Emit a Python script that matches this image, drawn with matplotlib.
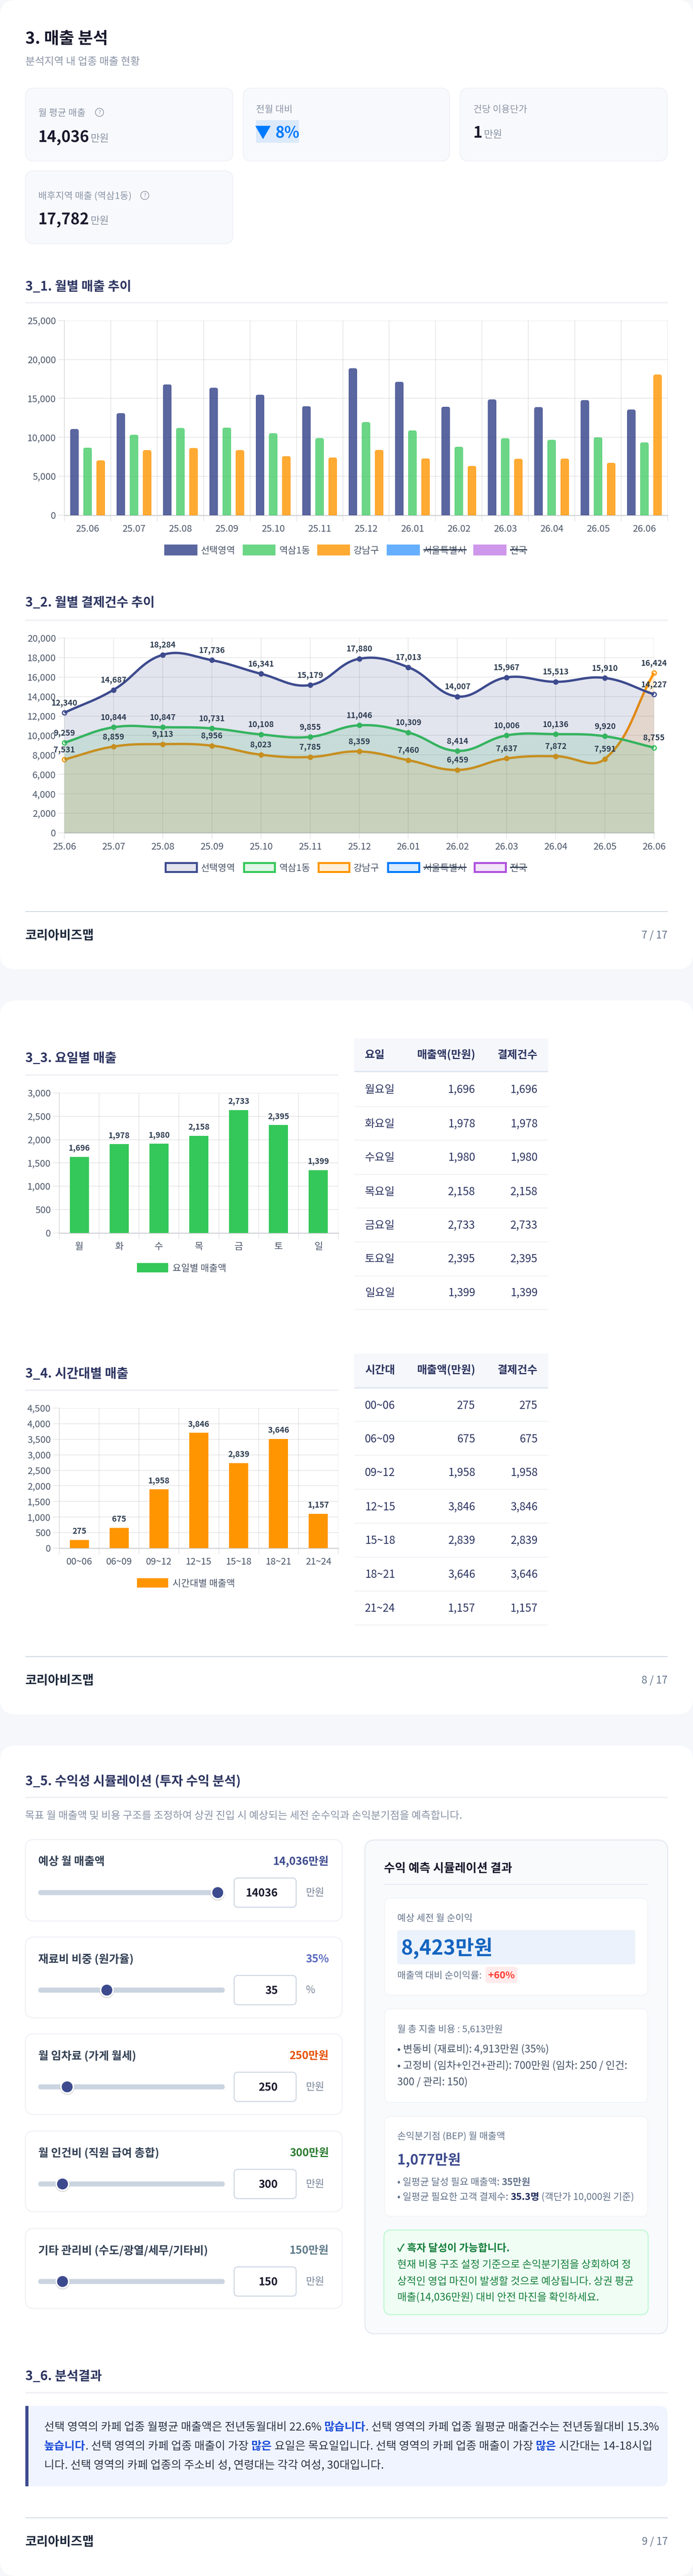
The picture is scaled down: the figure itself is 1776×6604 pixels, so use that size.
import numpy as np
import matplotlib
matplotlib.use('Agg')
import matplotlib.pyplot as plt
from matplotlib.patches import FancyBboxPatch, Rectangle, Circle

plt.rcParams['font.family'] = ['Noto Sans CJK KR', 'DejaVu Sans']

# Monthly data
months = ['25.06', '25.07', '25.08', '25.09', '25.10', '25.11', '25.12',
          '26.01', '26.02', '26.03', '26.04', '26.05', '26.06']
sales_area = [11056, 13093, 16786, 16360, 15465, 13988, 18867, 17122, 13921, 14861, 13876, 14772, 13563]
sales_dong = [8660, 10318, 11190, 11235, 10519, 9893, 11952, 10877, 8773, 9870, 9669, 9982, 9333]
sales_gu = [7027, 8348, 8617, 8348, 7565, 7386, 8370, 7274, 6311, 7229, 7251, 6714, 18062]
count_area = [12340, 14687, 18284, 17736, 16341, 15179, 17880, 17013, 14007, 15967, 15513, 15910, 14227]
count_dong = [9259, 10844, 10847, 10731, 10108, 9855, 11046, 10309, 8414, 10006, 10136, 9920, 8755]
count_gu = [7531, 8859, 9113, 8956, 8023, 7785, 8359, 7460, 6459, 7637, 7872, 7591, 16424]
legend_names = ['선택영역', '역삼1동', '강남구', '서울특별시', '전국']

# Weekday and time data. Bars sit a little under their printed labels in the source
day_short = ['월', '화', '수', '목', '금', '토', '일']
day_names = ['월요일', '화요일', '수요일', '목요일', '금요일', '토요일', '일요일']
day_bars = [1630, 1904, 1909, 2082, 2635, 2313, 1346]
day_sales = [1696, 1978, 1980, 2158, 2733, 2395, 1399]
time_names = ['00~06', '06~09', '09~12', '12~15', '15~18', '18~21', '21~24']
time_bars = [265, 650, 1890, 3707, 2735, 3515, 1109]
time_sales = [275, 675, 1958, 3846, 2839, 3646, 1157]

# Simulation sliders
slider_titles = ['예상 월 매출액', '재료비 비중 (원가율)', '월 임차료 (가게 월세)', '월 인건비 (직원 급여 총합)', '기타 관리비 (수도/광열/세무/기타비)']
slider_shown = ['14,036만원', '35%', '250만원', '300만원', '150만원']
slider_inputs = ['14036', '35', '250', '300', '150']
slider_units = ['만원', '%', '만원', '만원', '만원']
slider_fracs = [1.0, 0.357, 0.127, 0.10, 0.10]

# Colours
NAVY = '#3d4b8e'
GREEN = '#34c759'
ORANGE = '#ff9500'
BLUE = '#007aff'
PURPLE = '#af52de'
INK = '#1a1a2e'
HEAD = '#2d3561'
GREY = '#8a94a6'
TICK = '#4a5568'
LABEL = '#2f3e52'
legend_colors = [NAVY, GREEN, ORANGE, BLUE, PURPLE]
slider_colors = [NAVY, '#5c6bc0', '#e65100', '#2e7d32', '#607d8b']

W, H = 1776, 6604
PX = 0.72  # css px to points at dpi 100

fig = plt.figure(figsize=(W / 100, H / 100), dpi=100, facecolor='#f5f7fa')
bg = fig.add_axes([0, 0, 1, 1])
bg.set_xlim(0, W)
bg.set_ylim(H, 0)
bg.axis('off')


def box(x0, y0, x1, y1, fc='white', ec='none', lw=0, r=0, z=1):
    if r > 0:
        p = FancyBboxPatch((x0, y0), x1 - x0, y1 - y0, boxstyle='round,pad=0,rounding_size=%g' % r,
                           fc=fc, ec=ec, lw=lw * PX, zorder=z)
    else:
        p = Rectangle((x0, y0), x1 - x0, y1 - y0, fc=fc, ec=ec, lw=lw * PX, zorder=z)
    bg.add_patch(p)


def txt(x, y, s, size, color=INK, weight='normal', ha='left', z=5):
    # y is the visual middle of the line, so go through the baseline
    return bg.text(x, y + 0.36 * size, s, fontsize=size * PX, color=color, fontweight=weight,
                   ha=ha, va='baseline', zorder=z)


def text_width(s, size, weight):
    r = fig.canvas.get_renderer()
    a = bg.text(0, 0, s + '|', fontsize=size * PX, fontweight=weight)
    b = bg.text(0, 0, '|', fontsize=size * PX, fontweight=weight)
    w = a.get_window_extent(r).width - b.get_window_extent(r).width
    a.remove()
    b.remove()
    return w


def rich(x, y, parts, size, z=5):
    for s, color, weight in parts:
        txt(x, y, s, size, color, weight, z=z)
        x += text_width(s, size, weight)


def heading(y, rule_y, s, right=1711):
    txt(65, y, s, 32.8, HEAD, 'bold')
    box(65, rule_y - 2, right, rule_y + 2, fc='#f0f1f5')


def footer(line_y, page):
    box(65, line_y - 1, 1711, line_y + 1, fc='#cbd5e1')
    txt(65, line_y + 59, '코리아비즈맵', 32, '#1e293b', 'bold')
    txt(1711, line_y + 59, page, 26.6, '#64748b', ha='right')


def chart_axes(left, top, right, bottom):
    ax = fig.add_axes([left / W, 1 - bottom / H, (right - left) / W, (bottom - top) / H])
    ax.set_facecolor('none')
    ax.grid(True, color='k', alpha=0.09, lw=2 * PX)
    ax.set_axisbelow(True)
    for s in ['top', 'right']:
        ax.spines[s].set_visible(False)
    ax.spines['left'].set_color('#dcdcdc')
    ax.spines['left'].set_linewidth(2 * PX)
    ax.spines['bottom'].set_color('#d4d6da')
    ax.spines['bottom'].set_linewidth(3 * PX)
    ax.tick_params(axis='both', which='major', color='#e8e8e8', width=2 * PX, length=16 * PX,
                   labelsize=24 * PX, labelcolor=TICK, pad=6 * PX)
    return ax


def thousand(values):
    return ['{:,}'.format(v) for v in values]


def offset_categories(ax, labels):
    # grid lines between the categories, names in the middle of them
    n = len(labels)
    ax.set_xlim(-0.5, n - 0.5)
    ax.set_xticks(np.arange(-0.5, n, 1))
    ax.set_xticklabels([])
    ax.set_xticks(np.arange(n), minor=True)
    ax.set_xticklabels(labels, minor=True)
    ax.tick_params(axis='x', which='minor', length=0, labelsize=24 * PX, labelcolor=TICK, pad=24 * PX)


def round_top_bars(ax, xs, values, width, color, alpha):
    bars = ax.bar(xs, values, width, color=color, alpha=alpha, ec=color, lw=2 * PX, zorder=3)
    bb = ax.get_position()
    y0, y1 = ax.get_ylim()
    x0, x1 = ax.get_xlim()
    asp = ((y1 - y0) / (bb.height * H)) / ((x1 - x0) / (bb.width * W))
    for b in bars:
        clip = FancyBboxPatch((b.get_x(), -3000), b.get_width(), b.get_height() + 3000,
                              boxstyle='round,pad=0,rounding_size=%g' % (5 * (x1 - x0) / (bb.width * W)),
                              mutation_aspect=asp, transform=ax.transData)
        b.set_clip_path(clip)


def legend_row(y, solid):
    swatches = [(421, 506), (622, 706), (813, 897), (991, 1076), (1213, 1298)]
    alphas = [0.85, 0.72, 0.8, 0.6, 0.6]
    for i, name in enumerate(legend_names):
        a, b = swatches[i]
        if solid:
            box(a, y - 14, b, y + 14, fc=matplotlib.colors.to_rgba(legend_colors[i], alphas[i]))
        else:
            box(a + 2.5, y - 11.5, b - 2.5, y + 11.5, fc=matplotlib.colors.to_rgba(legend_colors[i], 0.15),
                ec=legend_colors[i], lw=5)
        txt(b + 9, y, name, 24, TICK)
        if i > 2:
            w = text_width(name, 24, 'normal')
            box(b + 9, y - 1.5, b + 9 + w, y + 1.5, fc=LABEL, z=6)


def smooth_curve(values, sx, sy, tension=0.4):
    # same spline as the chart library, worked out in pixels
    px = np.arange(len(values)) * sx
    py = np.array(values, dtype=float) * sy
    n = len(values)
    out = np.zeros(n)
    inc = np.zeros(n)
    for i in range(n):
        p, q = max(i - 1, 0), min(i + 1, n - 1)
        d01 = np.hypot(px[i] - px[p], py[i] - py[p])
        d12 = np.hypot(px[q] - px[i], py[q] - py[i])
        s = d01 + d12
        out[i] = tension * d12 / s
        inc[i] = tension * d01 / s
    xs, ys = [], []
    t = np.linspace(0, 1, 40)[:, None]
    for i in range(n - 1):
        p, q = max(i - 1, 0), min(i + 2, n - 1)
        p0 = np.array([px[i], py[i]])
        p3 = np.array([px[i + 1], py[i + 1]])
        p1 = p0 + out[i] * (p3 - np.array([px[p], py[p]]))
        p2 = p3 - inc[i + 1] * (np.array([px[q], py[q]]) - p0)
        c = (1 - t) ** 3 * p0 + 3 * (1 - t) ** 2 * t * p1 + 3 * (1 - t) * t ** 2 * p2 + t ** 3 * p3
        xs.append(c[:, 0])
        ys.append(c[:, 1])
    return np.concatenate(xs) / sx, np.concatenate(ys) / sy


def bar_panel(left, top, right, bottom, ymax, step, labels, bars, printed, color, legend_name, legend_y):
    ax = chart_axes(left, top, right, bottom)
    ax.set_ylim(0, ymax)
    offset_categories(ax, labels)
    ax.set_yticks(np.arange(0, ymax + 1, step))
    ax.set_yticklabels(thousand(range(0, ymax + 1, step)))
    ax.bar(range(len(bars)), bars, 0.48, color=color, zorder=3)
    for i in range(len(bars)):
        ax.annotate('{:,}'.format(printed[i]), (i, bars[i]), xytext=(0, 16 * PX), textcoords='offset points',
                    ha='center', va='baseline', fontsize=20.5 * PX, color=LABEL, fontweight='bold', zorder=6)
    box(351, legend_y - 12, 431, legend_y + 12, fc=color)
    txt(442, legend_y, legend_name, 24, TICK)


def table(top, head_bottom, rule_ys, head_y, row_ys, first, names, values):
    box(908, top, 1405, head_bottom, fc='#f5f7fb')
    box(908, head_bottom - 4, 1405, head_bottom, fc='#e2e8f0')
    txt(935, head_y, first, 28, HEAD, 'bold')
    txt(1218, head_y, '매출액(만원)', 28, HEAD, 'bold', ha='right')
    txt(1378, head_y, '결제건수', 28, HEAD, 'bold', ha='right')
    for i, name in enumerate(names):
        txt(935, row_ys[i], name, 28, HEAD)
        txt(1218, row_ys[i], '{:,}'.format(values[i]), 28, HEAD, ha='right')
        txt(1378, row_ys[i], '{:,}'.format(values[i]), 28, HEAD, ha='right')
        box(908, rule_ys[i] - 1.2, 1405, rule_ys[i] + 1.2, fc='#eef0f4')


# White pages
box(0, 0, W, 2485, r=40)
box(0, 2565, W, 4395, r=40)
box(0, 4475, W, H, r=40)

# Page 7 header and KPI cards
txt(65, 97, '3. 매출 분석', 42, INK, 'bold')
txt(65, 156, '분석지역 내 업종 매출 현황', 26.6, GREY)
card_fc, card_ec = '#f8f9fc', '#eef0f5'
box(65, 226, 597, 413, fc=card_fc, ec=card_ec, lw=2, r=22)
box(623, 226, 1152, 413, fc=card_fc, ec=card_ec, lw=2, r=22)
box(1179, 226, 1710, 413, fc=card_fc, ec=card_ec, lw=2, r=22)
box(65, 438, 597, 625, fc=card_fc, ec=card_ec, lw=2, r=22)


def help_icon(x, y):
    bg.add_patch(Circle((x, y), 10.5, fc='none', ec='#8f98a8', lw=1.8 * PX, zorder=5))
    txt(x, y, '?', 15, '#8f98a8', ha='center')


txt(98, 288, '월 평균 매출', 24, GREY)
help_icon(255, 288)
txt(98, 350, '14,036', 40, INK, 'bold')
txt(232, 354, '만원', 26, GREY)
txt(656, 279, '전월 대비', 24, GREY)
box(656, 308, 765.5, 366, fc='#dbe9fb')
txt(653, 339, '▼', 42, BLUE)
txt(705, 339, '8%', 40, BLUE, 'bold')
txt(1213, 279, '건당 이용단가', 24, GREY)
txt(1213, 339, '1', 40, INK, 'bold')
txt(1240, 344, '만원', 26, GREY)
txt(98, 501, '배후지역 매출 (역삼1동)', 24, GREY)
help_icon(371, 501)
txt(98, 561, '17,782', 40, INK, 'bold')
txt(232, 565, '만원', 26, GREY)

# 3_1 grouped bars
heading(733, 776, '3_1. 월별 매출 추이')
ax1 = chart_axes(165, 822, 1711, 1320.6)
ax1.set_ylim(0, 25000)
offset_categories(ax1, months)
ax1.set_yticks(np.arange(0, 25001, 5000))
ax1.set_yticklabels(thousand(range(0, 25001, 5000)))
x1 = np.arange(len(months))
round_top_bars(ax1, x1 - 0.283, sales_area, 0.18, NAVY, 0.85)
round_top_bars(ax1, x1, sales_dong, 0.18, GREEN, 0.72)
round_top_bars(ax1, x1 + 0.283, sales_gu, 0.18, ORANGE, 0.8)
legend_row(1410, True)

# 3_2 smooth lines
heading(1543, 1590, '3_2. 월별 결제건수 추이')
ax2 = chart_axes(165, 1636, 1676, 2135)
ax2.set_xlim(0, 12)
ax2.set_ylim(0, 20000)
ax2.set_xticks(range(13))
ax2.set_xticklabels(months)
ax2.tick_params(axis='x', pad=9 * PX)
ax2.set_yticks(np.arange(0, 20001, 2000))
ax2.set_yticklabels(thousand(range(0, 20001, 2000)))
sx = (1676 - 165) / 12
sy = (2135 - 1636) / 20000
for vals, col in [(count_gu, ORANGE), (count_dong, GREEN), (count_area, NAVY)]:
    cx, cy = smooth_curve(vals, sx, sy)
    ax2.fill_between(cx, 0, cy, color=col, alpha=0.15, lw=0, zorder=3)
    # points sit under the line: solid in the run, open at both ends
    ax2.plot(range(1, 12), vals[1:12], ls='none', marker='o', ms=11 * PX, mfc=col, mec=col, mew=3 * PX,
             clip_on=False, zorder=3)
    ax2.plot([0, 12], [vals[0], vals[12]], ls='none', marker='o', ms=11 * PX, mfc='white', mec=col, mew=3 * PX,
             clip_on=False, zorder=3)
    ax2.plot(cx, cy, color=col, lw=6 * PX, solid_capstyle='butt', clip_on=False, zorder=3)
for vals in [count_area, count_dong, count_gu]:
    for i, v in enumerate(vals):
        ax2.annotate('{:,}'.format(v), (i, v), xytext=(0, 19 * PX), textcoords='offset points', ha='center',
                     va='baseline', fontsize=20.5 * PX, color=LABEL, fontweight='bold', zorder=8,
                     annotation_clip=False)
legend_row(2224, False)
footer(2337, '7 / 17')

# 3_3 weekday
heading(2711, 2756, '3_3. 요일별 매출', right=867)
bar_panel(152, 2802, 867, 3160.5, 3000, 500, day_short, day_bars, day_sales, GREEN, '요일별 매출액', 3250)
table(2662, 2749.5, [2837, 2923, 3011, 3097, 3184, 3271, 3357], 2703,
      [2792, 2880, 2966, 3054, 3140, 3226, 3313], '요일', day_names, day_sales)

# 3_4 time of day
heading(3520, 3564, '3_4. 시간대별 매출', right=867)
bar_panel(152, 3610, 867, 3969, 4500, 500, time_names, time_bars, time_sales, ORANGE, '시간대별 매출액', 4058)
table(3470, 3560, [3644, 3731, 3818, 3905, 3992, 4079, 4166], 3511,
      [3602, 3688, 3774, 3862, 3948, 4035, 4122], '시간대', time_names, time_sales)
footer(4247, '8 / 17')

# 3_5 simulation, left side
heading(4566, 4608, '3_5. 수익성 시뮬레이션 (투자 수익 분석)')
txt(64, 4653, '목표 월 매출액 및 비용 구조를 조정하여 상권 진입 시 예상되는 세전 순수익과 손익분기점을 예측합니다.', 26.6, GREY)
card_tops = [4716, 4966, 5214, 5463, 5713]
card_bottoms = [4925, 5173, 5421, 5670, 5918]
for i in range(5):
    t = card_tops[i]
    box(65, t, 877, card_bottoms[i], fc='white', ec='#eef0f5', lw=2.5, r=22)
    txt(98, t + 55, slider_titles[i], 28.5, '#334155', 'bold')
    txt(843, t + 55, slider_shown[i], 28, slider_colors[i], 'bold', ha='right')
    cy = t + 136
    box(98, cy - 6.5, 576, cy + 6.5, fc='#cbd5e1', r=6.5)
    thumb = 116 + slider_fracs[i] * 442
    bg.add_patch(Circle((thumb, cy + 2), 18.5, fc=(0, 0, 0, 0.15), ec='none', zorder=3))
    bg.add_patch(Circle((thumb, cy), 18, fc='white', ec='none', zorder=3))
    bg.add_patch(Circle((thumb, cy), 14, fc=NAVY, ec='none', zorder=4))
    box(600, cy - 37.5, 759, cy + 37.5, fc='white', ec='#cbd5e1', lw=2.5, r=10)
    txt(712, cy, slider_inputs[i], 28, INK, 'bold', ha='right')
    txt(784, cy - 1, slider_units[i], 26, '#7a8699')

# simulation results, right side
box(935, 4717, 1711, 5983, fc='#f8fafc', ec='#e2e8f0', lw=2.5, r=26)
txt(984, 4788, '수익 예측 시뮬레이션 결과', 30.4, INK, 'bold')
box(984, 4830, 1662, 4832, fc='#e2e8f0')
for top, bottom in [(4866, 5115), (5150, 5390), (5426, 5682)]:
    box(986, top, 1660, bottom, fc='white', ec='#f1f3f6', lw=2, r=16)
txt(1018, 4916, '예상 세전 월 순이익', 24, '#64748b')
box(1018, 4948, 1628, 5036, fc='#ebf2fb', r=6)
txt(1027, 4992, '8,423만원', 52, '#1565c0', 'bold')
txt(1018, 5063, '매출액 대비 순이익률:', 24, '#64748b')
box(1244, 5042, 1326, 5084, fc='#ffebeb', r=8)
txt(1285, 5063, '+60%', 25, '#ff3b30', 'bold', ha='center')
txt(1018, 5201, '월 총 지출 비용 : 5,613만원', 24, '#64748b')
txt(1018, 5252, '• 변동비 (재료비): 4,913만원 (35%)', 26.4, '#475569')
txt(1018, 5294, '• 고정비 (임차+인건+관리): 700만원 (임차: 250 / 인건:', 26.4, '#475569')
txt(1018, 5336, '300 / 관리: 150)', 26.4, '#475569')
txt(1018, 5476, '손익분기점 (BEP) 월 매출액', 24, '#64748b')
txt(1018, 5536, '1,077만원', 36, NAVY, 'bold')
rich(1018, 5593, [('• 일평균 달성 필요 매출액: ', '#64748b', 'normal'), ('35만원', '#64748b', 'bold')], 24.5)
rich(1018, 5631, [('• 일평균 필요한 고객 결제수: ', '#64748b', 'normal'), ('35.3명', '#1e2a5a', 'bold'),
                  (' (객단가 10,000원 기준)', '#64748b', 'normal')], 24.5)
box(984, 5717, 1661, 5934, fc='#f0fdf4', ec='#bbf7d0', lw=2.5, r=18)
txt(1018, 5762, '✓ 흑자 달성이 가능합니다.', 26.4, '#15803d', 'bold')
txt(1018, 5804, '현재 비용 구조 설정 기준으로 손익분기점을 상회하여 정', 26.4, '#15803d')
txt(1018, 5847, '상적인 영업 마진이 발생할 것으로 예상됩니다. 상권 평균', 26.4, '#15803d')
txt(1018, 5888, '매출(14,036만원) 대비 안전 마진을 확인하세요.', 26.4, '#15803d')

# 3_6 result text
heading(6090, 6134, '3_6. 분석결과')
box(65, 6168, 1711, 6374, fc='#f0f4ff', r=20)
box(65, 6168, 100, 6374, fc='#f0f4ff')
box(65, 6168, 72.5, 6374, fc=NAVY)
DARK, STRONG = '#2c3547', '#1d4ed8'
rich(113, 6221, [('선택 영역의 카페 업종 월평균 매출액은 전년동월대비 22.6% ', DARK, 'normal'), ('많습니다', STRONG, 'bold'),
                 ('. 선택 영역의 카페 업종 월평균 매출건수는 전년동월대비 15.3%', DARK, 'normal')], 28.8)
rich(113, 6270, [('높습니다', STRONG, 'bold'), ('. 선택 영역의 카페 업종 매출이 가장 ', DARK, 'normal'), ('많은', STRONG, 'bold'),
                 (' 요일은 목요일입니다. 선택 영역의 카페 업종 매출이 가장 ', DARK, 'normal'), ('많은', STRONG, 'bold'),
                 (' 시간대는 14-18시입', DARK, 'normal')], 28.8)
rich(113, 6318, [('니다. 선택 영역의 카페 업종의 주소비 성, 연령대는 각각 여성, 30대입니다.', DARK, 'normal')], 28.8)
footer(6455, '9 / 17')

fig.savefig('out.png', dpi=100, facecolor=fig.get_facecolor())
